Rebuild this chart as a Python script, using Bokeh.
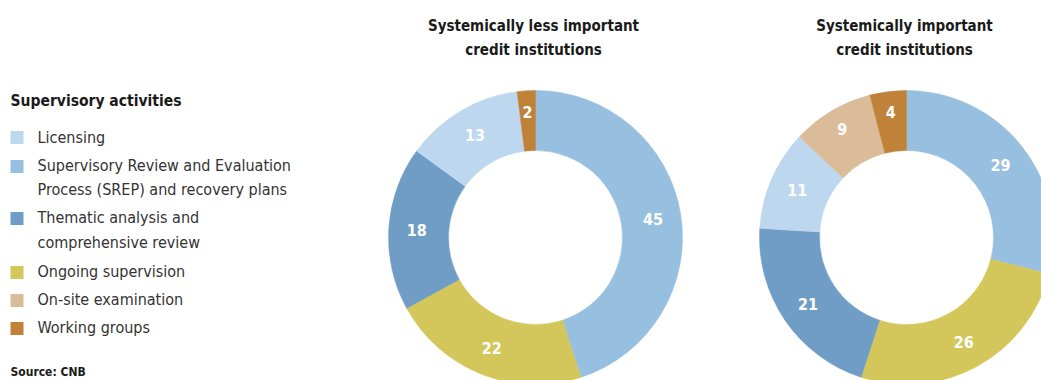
import math
from bokeh.plotting import figure
from bokeh.models import Range1d, ColumnDataSource
from bokeh.core.properties import value
from bokeh.embed import file_html
from bokeh.resources import INLINE

# ---- data ----
categories = ["Licensing",
              "Supervisory Review and Evaluation\nProcess (SREP) and recovery plans",
              "Thematic analysis and\ncomprehensive review",
              "Ongoing supervision",
              "On-site examination",
              "Working groups"]
colors = ["#bdd7ee", "#97bfe0", "#6f9dc5", "#d3c65a", "#dbbc98", "#c08139"]
# clockwise order from 12 o'clock
slice_order = [1, 3, 2, 0, 4, 5]
less_important = [13, 45, 18, 22, 0, 2]
important = [11, 29, 21, 26, 9, 4]
panel_titles = [["Systemically less important", "credit institutions"],
                ["Systemically important", "credit institutions"]]
legend_title = "Supervisory activities"
source_note = "Source: CNB"

W, H = 1041, 380
FONT = "DejaVu Sans Condensed"

p = figure(width=W, height=H, output_backend="svg", toolbar_location=None,
           x_range=Range1d(0, W), y_range=Range1d(0, H), min_border=0)
p.axis.visible = False
p.grid.visible = False
p.outline_line_color = None
p.background_fill_color = "white"


def sy(y):
    return H - y


centers = [(535, 237), (906, 237)]
R_OUT, R_IN = 147, 87

for (cx, cy), vals, title in zip(centers, [less_important, important], panel_titles):
    total = float(sum(vals))
    starts, ends, cols, labs, lx, ly = [], [], [], [], [], []
    cum = 0.0
    for idx in slice_order:
        v = vals[idx]
        if v <= 0:
            continue
        a0 = math.pi / 2 - cum / total * 2 * math.pi
        a1 = math.pi / 2 - (cum + v) / total * 2 * math.pi
        mid = (a0 + a1) / 2
        r_lab = 119 if v >= 10 else 126
        starts.append(a0)
        ends.append(a1)
        cols.append(colors[idx])
        labs.append(str(v))
        lx.append(cx + r_lab * math.cos(mid))
        ly.append(sy(cy) + r_lab * math.sin(mid))
        cum += v
    src = ColumnDataSource(dict(x=[cx] * len(starts), y=[sy(cy)] * len(starts),
                                s=starts, e=ends, c=cols))
    p.annular_wedge(x="x", y="y", inner_radius=R_IN, outer_radius=R_OUT,
                    start_angle="s", end_angle="e", direction="clock",
                    fill_color="c", line_color="c", line_width=0.5, source=src)
    p.text(x=lx, y=ly, text=labs, text_color="white", text_font=value(FONT),
           text_font_style="bold", text_font_size="16px",
           text_align="center", text_baseline="middle")
    p.text(x=[cx - 2, cx - 2], y=[sy(25), sy(49)], text=title, text_color="#1a1a1a",
           text_font=value(FONT), text_font_style="bold", text_font_size="15px",
           text_align="center", text_baseline="middle")

# legend
p.text(x=[10], y=[sy(100)], text=[legend_title], text_color="#1a1a1a",
       text_font=value(FONT), text_font_style="bold", text_font_size="15.5px",
       text_align="left", text_baseline="middle")
square_y = [137, 166, 218, 272, 300, 328]
p.rect(x=[16.5] * 6, y=[sy(y) for y in square_y], width=13, height=13,
       fill_color=colors, line_color=None)
line_y = [[137], [165, 189], [217, 242], [271], [299], [327]]
tx, ty, tt = [], [], []
for cat, ys in zip(categories, line_y):
    for line, y in zip(cat.split("\n"), ys):
        tx.append(37)
        ty.append(sy(y))
        tt.append(line)
p.text(x=tx, y=ty, text=tt, text_color="#333333", text_font=value(FONT),
       text_font_size="16px", text_align="left", text_baseline="middle")

p.text(x=[10], y=[sy(378)], text=[source_note], text_color="#1a1a1a",
       text_font=value(FONT), text_font_style="bold", text_font_size="12px",
       text_align="left", text_baseline="bottom")

open("out.html", "w").write(file_html(p, INLINE))
